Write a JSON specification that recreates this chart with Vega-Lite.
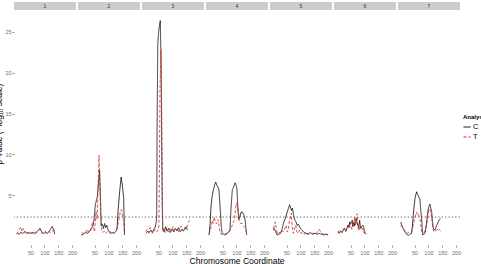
{
"$schema": "https://vega.github.io/schema/vega-lite/v6.json",
"autosize": {"type": "pad"},
"padding": {"left": -6, "top": 2, "right": 0, "bottom": 0},
"bounds": "flush",
"config": {"view": {"stroke": null}, "font": "Liberation Sans",
  "axis": {"grid": false, "domain": false, "tickColor": "#8a8a8a", "tickSize": 2, "labelColor": "#6e6e6e", "labelFontSize": 5.5, "labelPadding": 1},
  "axisX": {"labelOverlap": false, "labelPadding": 3, "labelFlush": false, "labelSeparation": 0}},
"datasets": {"d": [
{"chr":1,"run":"C","pos":0,"p":0.3},{"chr":1,"run":"C","pos":8,"p":0.2},{"chr":1,"run":"C","pos":15,"p":0.4},{"chr":1,"run":"C","pos":22,"p":0.3},{"chr":1,"run":"C","pos":28,"p":0.5},{"chr":1,"run":"C","pos":35,"p":0.3},{"chr":1,"run":"C","pos":42,"p":0.4},{"chr":1,"run":"C","pos":50,"p":0.3},{"chr":1,"run":"C","pos":58,"p":0.4},{"chr":1,"run":"C","pos":65,"p":0.3},{"chr":1,"run":"C","pos":72,"p":0.5},{"chr":1,"run":"C","pos":78,"p":0.7},{"chr":1,"run":"C","pos":84,"p":0.9},{"chr":1,"run":"C","pos":90,"p":0.5},{"chr":1,"run":"C","pos":97,"p":0.3},{"chr":1,"run":"C","pos":104,"p":0.4},{"chr":1,"run":"C","pos":110,"p":0.3},{"chr":1,"run":"C","pos":116,"p":0.5},{"chr":1,"run":"C","pos":122,"p":0.8},{"chr":1,"run":"C","pos":128,"p":1.15},{"chr":1,"run":"C","pos":133,"p":0.8},{"chr":1,"run":"C","pos":137,"p":0.2},
{"chr":1,"run":"T","pos":0,"p":0.2},{"chr":1,"run":"T","pos":5,"p":0.5},{"chr":1,"run":"T","pos":10,"p":0.8},{"chr":1,"run":"T","pos":15,"p":1.1},{"chr":1,"run":"T","pos":19,"p":0.5},{"chr":1,"run":"T","pos":24,"p":0.9},{"chr":1,"run":"T","pos":29,"p":0.4},{"chr":1,"run":"T","pos":35,"p":0.6},{"chr":1,"run":"T","pos":41,"p":0.3},{"chr":1,"run":"T","pos":48,"p":0.5},{"chr":1,"run":"T","pos":55,"p":0.3},{"chr":1,"run":"T","pos":62,"p":0.4},{"chr":1,"run":"T","pos":70,"p":0.3},{"chr":1,"run":"T","pos":77,"p":0.6},{"chr":1,"run":"T","pos":83,"p":0.8},{"chr":1,"run":"T","pos":89,"p":0.3},{"chr":1,"run":"T","pos":96,"p":0.4},{"chr":1,"run":"T","pos":103,"p":0.6},{"chr":1,"run":"T","pos":110,"p":0.3},{"chr":1,"run":"T","pos":117,"p":0.5},{"chr":1,"run":"T","pos":124,"p":0.4},{"chr":1,"run":"T","pos":131,"p":0.7},{"chr":1,"run":"T","pos":137,"p":0.3},
{"chr":2,"run":"C","pos":2,"p":0.1},{"chr":2,"run":"C","pos":10,"p":0.2},{"chr":2,"run":"C","pos":18,"p":0.4},{"chr":2,"run":"C","pos":25,"p":0.3},{"chr":2,"run":"C","pos":32,"p":0.6},{"chr":2,"run":"C","pos":38,"p":0.9},{"chr":2,"run":"C","pos":44,"p":1.2},{"chr":2,"run":"C","pos":48,"p":2.0},{"chr":2,"run":"C","pos":52,"p":3.6},{"chr":2,"run":"C","pos":56,"p":4.3},{"chr":2,"run":"C","pos":60,"p":4.8},{"chr":2,"run":"C","pos":64,"p":6.5},{"chr":2,"run":"C","pos":68,"p":8.0},{"chr":2,"run":"C","pos":71,"p":5.0},{"chr":2,"run":"C","pos":74,"p":1.2},{"chr":2,"run":"C","pos":78,"p":1.4},{"chr":2,"run":"C","pos":82,"p":0.9},{"chr":2,"run":"C","pos":86,"p":1.5},{"chr":2,"run":"C","pos":90,"p":1.0},{"chr":2,"run":"C","pos":94,"p":1.3},{"chr":2,"run":"C","pos":98,"p":0.8},{"chr":2,"run":"C","pos":103,"p":0.5},{"chr":2,"run":"C","pos":108,"p":0.3},{"chr":2,"run":"C","pos":114,"p":0.4},{"chr":2,"run":"C","pos":120,"p":0.3},{"chr":2,"run":"C","pos":126,"p":0.5},{"chr":2,"run":"C","pos":131,"p":0.8},{"chr":2,"run":"C","pos":135,"p":3.2},{"chr":2,"run":"C","pos":141,"p":5.6},{"chr":2,"run":"C","pos":146,"p":7.2},{"chr":2,"run":"C","pos":151,"p":6.0},{"chr":2,"run":"C","pos":155,"p":4.6},{"chr":2,"run":"C","pos":158,"p":0.1},
{"chr":2,"run":"T","pos":2,"p":0.2},{"chr":2,"run":"T","pos":8,"p":0.4},{"chr":2,"run":"T","pos":14,"p":0.3},{"chr":2,"run":"T","pos":20,"p":0.6},{"chr":2,"run":"T","pos":24,"p":0.8},{"chr":2,"run":"T","pos":28,"p":0.4},{"chr":2,"run":"T","pos":33,"p":0.5},{"chr":2,"run":"T","pos":37,"p":0.7},{"chr":2,"run":"T","pos":43,"p":1.7},{"chr":2,"run":"T","pos":47,"p":0.9},{"chr":2,"run":"T","pos":50,"p":0.5},{"chr":2,"run":"T","pos":55,"p":3.0},{"chr":2,"run":"T","pos":59,"p":2.0},{"chr":2,"run":"T","pos":62,"p":5.5},{"chr":2,"run":"T","pos":66,"p":9.9},{"chr":2,"run":"T","pos":69,"p":6.0},{"chr":2,"run":"T","pos":72,"p":2.0},{"chr":2,"run":"T","pos":76,"p":0.7},{"chr":2,"run":"T","pos":80,"p":0.4},{"chr":2,"run":"T","pos":85,"p":0.6},{"chr":2,"run":"T","pos":90,"p":0.3},{"chr":2,"run":"T","pos":96,"p":0.5},{"chr":2,"run":"T","pos":102,"p":0.3},{"chr":2,"run":"T","pos":108,"p":0.5},{"chr":2,"run":"T","pos":115,"p":0.3},{"chr":2,"run":"T","pos":122,"p":0.4},{"chr":2,"run":"T","pos":128,"p":0.6},{"chr":2,"run":"T","pos":133,"p":1.2},{"chr":2,"run":"T","pos":138,"p":2.0},{"chr":2,"run":"T","pos":143,"p":3.0},{"chr":2,"run":"T","pos":147,"p":3.2},{"chr":2,"run":"T","pos":151,"p":2.5},{"chr":2,"run":"T","pos":155,"p":2.0},{"chr":2,"run":"T","pos":158,"p":0.2},
{"chr":3,"run":"C","pos":4,"p":0.3},{"chr":3,"run":"C","pos":10,"p":0.5},{"chr":3,"run":"C","pos":16,"p":0.4},{"chr":3,"run":"C","pos":22,"p":0.7},{"chr":3,"run":"C","pos":28,"p":0.4},{"chr":3,"run":"C","pos":33,"p":0.8},{"chr":3,"run":"C","pos":38,"p":1.1},{"chr":3,"run":"C","pos":41,"p":1.6},{"chr":3,"run":"C","pos":43,"p":2.5},{"chr":3,"run":"C","pos":44.5,"p":13},{"chr":3,"run":"C","pos":47,"p":23.5},{"chr":3,"run":"C","pos":51,"p":25.3},{"chr":3,"run":"C","pos":56,"p":26.4},{"chr":3,"run":"C","pos":59,"p":21},{"chr":3,"run":"C","pos":61,"p":12},{"chr":3,"run":"C","pos":63,"p":4},{"chr":3,"run":"C","pos":65,"p":0.8},{"chr":3,"run":"C","pos":70,"p":0.5},{"chr":3,"run":"C","pos":75,"p":1.1},{"chr":3,"run":"C","pos":80,"p":0.6},{"chr":3,"run":"C","pos":86,"p":0.9},{"chr":3,"run":"C","pos":92,"p":0.4},{"chr":3,"run":"C","pos":98,"p":0.8},{"chr":3,"run":"C","pos":104,"p":0.5},{"chr":3,"run":"C","pos":110,"p":0.9},{"chr":3,"run":"C","pos":116,"p":0.6},{"chr":3,"run":"C","pos":122,"p":1.0},{"chr":3,"run":"C","pos":128,"p":0.5},{"chr":3,"run":"C","pos":134,"p":0.8},{"chr":3,"run":"C","pos":140,"p":0.6},{"chr":3,"run":"C","pos":145,"p":0.9},{"chr":3,"run":"C","pos":149,"p":1.1},{"chr":3,"run":"C","pos":154,"p":0.7},
{"chr":3,"run":"T","pos":4,"p":0.5},{"chr":3,"run":"T","pos":9,"p":0.8},{"chr":3,"run":"T","pos":14,"p":0.4},{"chr":3,"run":"T","pos":19,"p":1.0},{"chr":3,"run":"T","pos":24,"p":0.5},{"chr":3,"run":"T","pos":29,"p":0.3},{"chr":3,"run":"T","pos":34,"p":0.6},{"chr":3,"run":"T","pos":39,"p":0.8},{"chr":3,"run":"T","pos":44,"p":0.5},{"chr":3,"run":"T","pos":48,"p":0.7},{"chr":3,"run":"T","pos":51,"p":1.2},{"chr":3,"run":"T","pos":53,"p":8},{"chr":3,"run":"T","pos":55,"p":18},{"chr":3,"run":"T","pos":58.5,"p":22.8},{"chr":3,"run":"T","pos":61,"p":16},{"chr":3,"run":"T","pos":63,"p":7},{"chr":3,"run":"T","pos":65,"p":0.5},{"chr":3,"run":"T","pos":70,"p":0.9},{"chr":3,"run":"T","pos":74,"p":0.4},{"chr":3,"run":"T","pos":79,"p":1.0},{"chr":3,"run":"T","pos":84,"p":0.5},{"chr":3,"run":"T","pos":90,"p":0.9},{"chr":3,"run":"T","pos":96,"p":0.6},{"chr":3,"run":"T","pos":102,"p":1.1},{"chr":3,"run":"T","pos":108,"p":0.5},{"chr":3,"run":"T","pos":114,"p":0.8},{"chr":3,"run":"T","pos":120,"p":0.4},{"chr":3,"run":"T","pos":126,"p":0.9},{"chr":3,"run":"T","pos":132,"p":1.2},{"chr":3,"run":"T","pos":138,"p":0.6},{"chr":3,"run":"T","pos":144,"p":1.0},{"chr":3,"run":"T","pos":150,"p":0.8},{"chr":3,"run":"T","pos":155,"p":1.3},{"chr":3,"run":"T","pos":161,"p":1.9},
{"chr":4,"run":"C","pos":1,"p":0.1},{"chr":4,"run":"C","pos":5,"p":1.5},{"chr":4,"run":"C","pos":8,"p":3.6},{"chr":4,"run":"C","pos":12,"p":4.8},{"chr":4,"run":"C","pos":16.5,"p":5.6},{"chr":4,"run":"C","pos":21,"p":6.2},{"chr":4,"run":"C","pos":25,"p":6.6},{"chr":4,"run":"C","pos":29,"p":6.2},{"chr":4,"run":"C","pos":33,"p":6.0},{"chr":4,"run":"C","pos":37,"p":5.6},{"chr":4,"run":"C","pos":40,"p":4.0},{"chr":4,"run":"C","pos":42,"p":3.0},{"chr":4,"run":"C","pos":45,"p":1.2},{"chr":4,"run":"C","pos":48,"p":0.4},{"chr":4,"run":"C","pos":53,"p":0.2},{"chr":4,"run":"C","pos":58,"p":0.1},{"chr":4,"run":"C","pos":63,"p":0.2},{"chr":4,"run":"C","pos":68,"p":0.3},{"chr":4,"run":"C","pos":72,"p":0.5},{"chr":4,"run":"C","pos":76.6,"p":0.6},{"chr":4,"run":"C","pos":80,"p":3.2},{"chr":4,"run":"C","pos":85,"p":5.6},{"chr":4,"run":"C","pos":90,"p":6.0},{"chr":4,"run":"C","pos":95,"p":6.5},{"chr":4,"run":"C","pos":99,"p":6.2},{"chr":4,"run":"C","pos":102,"p":5.6},{"chr":4,"run":"C","pos":105,"p":3.5},{"chr":4,"run":"C","pos":108,"p":2.0},{"chr":4,"run":"C","pos":112,"p":2.3},{"chr":4,"run":"C","pos":117,"p":2.9},{"chr":4,"run":"C","pos":122,"p":2.9},{"chr":4,"run":"C","pos":127,"p":2.5},{"chr":4,"run":"C","pos":131,"p":2.0},{"chr":4,"run":"C","pos":134,"p":1.0},{"chr":4,"run":"C","pos":137,"p":0.1},
{"chr":4,"run":"T","pos":1,"p":0.2},{"chr":4,"run":"T","pos":5,"p":0.6},{"chr":4,"run":"T","pos":9,"p":1.2},{"chr":4,"run":"T","pos":12.8,"p":1.9},{"chr":4,"run":"T","pos":16,"p":1.5},{"chr":4,"run":"T","pos":20,"p":2.3},{"chr":4,"run":"T","pos":24,"p":1.6},{"chr":4,"run":"T","pos":28.6,"p":1.5},{"chr":4,"run":"T","pos":32,"p":2.0},{"chr":4,"run":"T","pos":35,"p":1.9},{"chr":4,"run":"T","pos":38,"p":1.0},{"chr":4,"run":"T","pos":41,"p":0.3},{"chr":4,"run":"T","pos":46,"p":0.2},{"chr":4,"run":"T","pos":52,"p":0.1},{"chr":4,"run":"T","pos":58,"p":0.2},{"chr":4,"run":"T","pos":64,"p":0.3},{"chr":4,"run":"T","pos":70,"p":0.4},{"chr":4,"run":"T","pos":75,"p":0.6},{"chr":4,"run":"T","pos":80,"p":0.9},{"chr":4,"run":"T","pos":83,"p":1.1},{"chr":4,"run":"T","pos":88,"p":1.6},{"chr":4,"run":"T","pos":92,"p":1.9},{"chr":4,"run":"T","pos":96,"p":3.0},{"chr":4,"run":"T","pos":100,"p":4.0},{"chr":4,"run":"T","pos":104,"p":3.6},{"chr":4,"run":"T","pos":107,"p":3.0},{"chr":4,"run":"T","pos":110,"p":1.9},{"chr":4,"run":"T","pos":115,"p":1.5},{"chr":4,"run":"T","pos":121,"p":1.5},{"chr":4,"run":"T","pos":126,"p":1.2},{"chr":4,"run":"T","pos":131,"p":1.0},{"chr":4,"run":"T","pos":134,"p":0.8},{"chr":4,"run":"T","pos":137,"p":0.1},
{"chr":5,"run":"C","pos":2,"p":0.7},{"chr":5,"run":"C","pos":5,"p":0.9},{"chr":5,"run":"C","pos":10,"p":0.5},{"chr":5,"run":"C","pos":16,"p":0.1},{"chr":5,"run":"C","pos":22,"p":0.2},{"chr":5,"run":"C","pos":28,"p":0.3},{"chr":5,"run":"C","pos":34,"p":0.9},{"chr":5,"run":"C","pos":40,"p":1.7},{"chr":5,"run":"C","pos":46,"p":2.2},{"chr":5,"run":"C","pos":52,"p":2.9},{"chr":5,"run":"C","pos":57,"p":3.4},{"chr":5,"run":"C","pos":61,"p":3.8},{"chr":5,"run":"C","pos":65,"p":3.4},{"chr":5,"run":"C","pos":68,"p":3.1},{"chr":5,"run":"C","pos":71,"p":3.4},{"chr":5,"run":"C","pos":74,"p":2.8},{"chr":5,"run":"C","pos":77,"p":2.3},{"chr":5,"run":"C","pos":80,"p":1.9},{"chr":5,"run":"C","pos":84,"p":1.7},{"chr":5,"run":"C","pos":88,"p":1.3},{"chr":5,"run":"C","pos":93,"p":1.4},{"chr":5,"run":"C","pos":98,"p":1.0},{"chr":5,"run":"C","pos":103,"p":0.8},{"chr":5,"run":"C","pos":108,"p":0.6},{"chr":5,"run":"C","pos":114,"p":0.4},{"chr":5,"run":"C","pos":120,"p":0.3},{"chr":5,"run":"C","pos":128,"p":0.2},{"chr":5,"run":"C","pos":136,"p":0.4},{"chr":5,"run":"C","pos":144,"p":0.2},{"chr":5,"run":"C","pos":152,"p":0.3},{"chr":5,"run":"C","pos":160,"p":0.2},{"chr":5,"run":"C","pos":168,"p":0.3},{"chr":5,"run":"C","pos":176,"p":0.2},{"chr":5,"run":"C","pos":184,"p":0.1},{"chr":5,"run":"C","pos":192,"p":0.2},{"chr":5,"run":"C","pos":200,"p":0.1},
{"chr":5,"run":"T","pos":2,"p":0.9},{"chr":5,"run":"T","pos":5,"p":1.2},{"chr":5,"run":"T","pos":9,"p":1.7},{"chr":5,"run":"T","pos":13,"p":0.9},{"chr":5,"run":"T","pos":17,"p":0.2},{"chr":5,"run":"T","pos":22,"p":0.4},{"chr":5,"run":"T","pos":28,"p":0.3},{"chr":5,"run":"T","pos":34,"p":0.6},{"chr":5,"run":"T","pos":40,"p":0.5},{"chr":5,"run":"T","pos":45,"p":1.0},{"chr":5,"run":"T","pos":48,"p":1.3},{"chr":5,"run":"T","pos":52,"p":0.5},{"chr":5,"run":"T","pos":56,"p":0.6},{"chr":5,"run":"T","pos":60,"p":1.8},{"chr":5,"run":"T","pos":64,"p":2.4},{"chr":5,"run":"T","pos":67,"p":2.8},{"chr":5,"run":"T","pos":70,"p":1.2},{"chr":5,"run":"T","pos":74,"p":0.3},{"chr":5,"run":"T","pos":79,"p":0.9},{"chr":5,"run":"T","pos":83,"p":1.3},{"chr":5,"run":"T","pos":87,"p":0.5},{"chr":5,"run":"T","pos":92,"p":0.3},{"chr":5,"run":"T","pos":97,"p":0.7},{"chr":5,"run":"T","pos":102,"p":0.3},{"chr":5,"run":"T","pos":108,"p":0.5},{"chr":5,"run":"T","pos":114,"p":0.2},{"chr":5,"run":"T","pos":120,"p":0.4},{"chr":5,"run":"T","pos":128,"p":0.2},{"chr":5,"run":"T","pos":135,"p":0.3},{"chr":5,"run":"T","pos":142,"p":0.2},{"chr":5,"run":"T","pos":150,"p":0.4},{"chr":5,"run":"T","pos":156,"p":0.3},{"chr":5,"run":"T","pos":162,"p":0.5},{"chr":5,"run":"T","pos":168,"p":0.8},{"chr":5,"run":"T","pos":174,"p":0.4},{"chr":5,"run":"T","pos":182,"p":0.2},{"chr":5,"run":"T","pos":190,"p":0.3},{"chr":5,"run":"T","pos":200,"p":0.1},
{"chr":6,"run":"C","pos":4,"p":0.5},{"chr":6,"run":"C","pos":9,"p":0.3},{"chr":6,"run":"C","pos":14,"p":0.6},{"chr":6,"run":"C","pos":19,"p":0.4},{"chr":6,"run":"C","pos":24,"p":0.7},{"chr":6,"run":"C","pos":28.6,"p":0.9},{"chr":6,"run":"C","pos":33,"p":0.6},{"chr":6,"run":"C","pos":37,"p":1.0},{"chr":6,"run":"C","pos":40.5,"p":1.3},{"chr":6,"run":"C","pos":44,"p":1.0},{"chr":6,"run":"C","pos":46.6,"p":1.7},{"chr":6,"run":"C","pos":50,"p":1.4},{"chr":6,"run":"C","pos":53,"p":1.7},{"chr":6,"run":"C","pos":56,"p":1.9},{"chr":6,"run":"C","pos":58,"p":1.1},{"chr":6,"run":"C","pos":61,"p":1.6},{"chr":6,"run":"C","pos":64,"p":1.2},{"chr":6,"run":"C","pos":67,"p":1.8},{"chr":6,"run":"C","pos":70.5,"p":2.1},{"chr":6,"run":"C","pos":73,"p":1.6},{"chr":6,"run":"C","pos":76,"p":1.3},{"chr":6,"run":"C","pos":79,"p":1.0},{"chr":6,"run":"C","pos":82.8,"p":1.9},{"chr":6,"run":"C","pos":86,"p":0.9},{"chr":6,"run":"C","pos":90,"p":1.1},{"chr":6,"run":"C","pos":94,"p":1.3},{"chr":6,"run":"C","pos":97,"p":1.2},{"chr":6,"run":"C","pos":100,"p":0.4},{"chr":6,"run":"C","pos":104,"p":0.3},{"chr":6,"run":"C","pos":107,"p":0.2},
{"chr":6,"run":"T","pos":4,"p":0.3},{"chr":6,"run":"T","pos":8,"p":0.6},{"chr":6,"run":"T","pos":12,"p":0.7},{"chr":6,"run":"T","pos":17,"p":0.4},{"chr":6,"run":"T","pos":22,"p":0.8},{"chr":6,"run":"T","pos":27,"p":0.9},{"chr":6,"run":"T","pos":32,"p":0.5},{"chr":6,"run":"T","pos":37,"p":0.8},{"chr":6,"run":"T","pos":41,"p":1.1},{"chr":6,"run":"T","pos":44,"p":1.5},{"chr":6,"run":"T","pos":48,"p":1.0},{"chr":6,"run":"T","pos":52,"p":1.1},{"chr":6,"run":"T","pos":55,"p":0.8},{"chr":6,"run":"T","pos":58.6,"p":1.7},{"chr":6,"run":"T","pos":62,"p":1.4},{"chr":6,"run":"T","pos":64.7,"p":2.3},{"chr":6,"run":"T","pos":68,"p":1.2},{"chr":6,"run":"T","pos":71,"p":2.5},{"chr":6,"run":"T","pos":74,"p":2.7},{"chr":6,"run":"T","pos":77,"p":0.9},{"chr":6,"run":"T","pos":80,"p":0.6},{"chr":6,"run":"T","pos":83,"p":1.0},{"chr":6,"run":"T","pos":86,"p":1.3},{"chr":6,"run":"T","pos":90,"p":0.7},{"chr":6,"run":"T","pos":94,"p":0.9},{"chr":6,"run":"T","pos":97,"p":0.5},{"chr":6,"run":"T","pos":100,"p":0.3},{"chr":6,"run":"T","pos":104,"p":0.4},{"chr":6,"run":"T","pos":107,"p":0.2},
{"chr":7,"run":"C","pos":0,"p":1.7},{"chr":7,"run":"C","pos":5.5,"p":1.1},{"chr":7,"run":"C","pos":10,"p":0.8},{"chr":7,"run":"C","pos":15,"p":0.5},{"chr":7,"run":"C","pos":21,"p":0.2},{"chr":7,"run":"C","pos":27,"p":0.05},{"chr":7,"run":"C","pos":33,"p":0.2},{"chr":7,"run":"C","pos":39,"p":0.3},{"chr":7,"run":"C","pos":42,"p":1.2},{"chr":7,"run":"C","pos":45,"p":2.5},{"chr":7,"run":"C","pos":48,"p":3.5},{"chr":7,"run":"C","pos":51,"p":4.5},{"chr":7,"run":"C","pos":54,"p":5.0},{"chr":7,"run":"C","pos":57.5,"p":5.4},{"chr":7,"run":"C","pos":60,"p":5.1},{"chr":7,"run":"C","pos":63,"p":4.95},{"chr":7,"run":"C","pos":66,"p":4.7},{"chr":7,"run":"C","pos":69,"p":4.5},{"chr":7,"run":"C","pos":72,"p":3.2},{"chr":7,"run":"C","pos":75.5,"p":2.1},{"chr":7,"run":"C","pos":79,"p":0.1},{"chr":7,"run":"C","pos":83,"p":0.2},{"chr":7,"run":"C","pos":87.5,"p":0.3},{"chr":7,"run":"C","pos":91,"p":1.0},{"chr":7,"run":"C","pos":93.6,"p":1.7},{"chr":7,"run":"C","pos":96,"p":2.5},{"chr":7,"run":"C","pos":99.5,"p":3.3},{"chr":7,"run":"C","pos":102,"p":3.6},{"chr":7,"run":"C","pos":105.5,"p":3.9},{"chr":7,"run":"C","pos":108,"p":3.5},{"chr":7,"run":"C","pos":111.7,"p":2.9},{"chr":7,"run":"C","pos":114,"p":2.0},{"chr":7,"run":"C","pos":117.5,"p":0.9},{"chr":7,"run":"C","pos":123.5,"p":0.7},{"chr":7,"run":"C","pos":129.7,"p":1.3},{"chr":7,"run":"C","pos":134,"p":1.6},{"chr":7,"run":"C","pos":138,"p":1.9},{"chr":7,"run":"C","pos":144,"p":2.1},
{"chr":7,"run":"T","pos":0,"p":1.3},{"chr":7,"run":"T","pos":4,"p":1.1},{"chr":7,"run":"T","pos":9,"p":0.9},{"chr":7,"run":"T","pos":15,"p":0.6},{"chr":7,"run":"T","pos":21,"p":0.3},{"chr":7,"run":"T","pos":27,"p":0.4},{"chr":7,"run":"T","pos":33,"p":0.5},{"chr":7,"run":"T","pos":39,"p":0.5},{"chr":7,"run":"T","pos":45,"p":1.3},{"chr":7,"run":"T","pos":50,"p":2.0},{"chr":7,"run":"T","pos":54,"p":2.6},{"chr":7,"run":"T","pos":57.5,"p":2.9},{"chr":7,"run":"T","pos":60,"p":2.6},{"chr":7,"run":"T","pos":63.4,"p":2.7},{"chr":7,"run":"T","pos":66,"p":2.4},{"chr":7,"run":"T","pos":69.4,"p":2.1},{"chr":7,"run":"T","pos":72,"p":1.5},{"chr":7,"run":"T","pos":75,"p":0.5},{"chr":7,"run":"T","pos":80,"p":0.4},{"chr":7,"run":"T","pos":87,"p":0.5},{"chr":7,"run":"T","pos":93,"p":1.3},{"chr":7,"run":"T","pos":96,"p":2.0},{"chr":7,"run":"T","pos":99.5,"p":2.9},{"chr":7,"run":"T","pos":102,"p":3.1},{"chr":7,"run":"T","pos":105.5,"p":3.3},{"chr":7,"run":"T","pos":108,"p":2.8},{"chr":7,"run":"T","pos":111.7,"p":2.3},{"chr":7,"run":"T","pos":115,"p":1.2},{"chr":7,"run":"T","pos":119,"p":0.5},{"chr":7,"run":"T","pos":124,"p":0.6},{"chr":7,"run":"T","pos":130,"p":0.7},{"chr":7,"run":"T","pos":135,"p":0.8},{"chr":7,"run":"T","pos":138,"p":0.9},{"chr":7,"run":"T","pos":141,"p":0.7},{"chr":7,"run":"T","pos":144,"p":0.6}
]},
"data": {"name": "d"},
"facet": {"column": {"field": "chr", "type": "ordinal", "header": {"labels": false, "title": "Chromosome Coordinate", "titleOrient": "bottom", "titleFontSize": 8.5, "titleFontWeight": "normal", "titleColor": "#000000", "titlePadding": -5, "titleBaseline": "middle", "titleFont": "Liberation Sans"}}},
"spacing": 2,
"spec": {
  "width": 62, "height": 243,
  "layer": [
    {"transform": [{"aggregate": [{"op": "count", "as": "n"}], "groupby": ["chr"]}],
     "mark": {"type": "rect", "color": "#cccccc"},
     "encoding": {"x": {"datum": -10, "type": "quantitative"}, "x2": {"datum": 214}, "y": {"datum": 28.68, "type": "quantitative"}, "y2": {"datum": 27.7}}},
    {"transform": [{"aggregate": [{"op": "count", "as": "n"}], "groupby": ["chr"]}],
     "mark": {"type": "text", "fontSize": 5, "color": "#333333", "baseline": "middle"},
     "encoding": {"x": {"datum": 102, "type": "quantitative"}, "y": {"datum": 28.2, "type": "quantitative"}, "text": {"field": "chr"}}},
    {"transform": [{"aggregate": [{"op": "count", "as": "n"}], "groupby": ["chr"]}],
     "mark": {"type": "rule", "color": "#6a6a6a", "strokeDash": [1.4, 2], "strokeWidth": 1},
     "encoding": {"y": {"datum": 2.3, "type": "quantitative"}}},
    {"mark": {"type": "line", "strokeWidth": 0.8},
     "encoding": {
       "x": {"field": "pos", "type": "quantitative", "scale": {"domain": [-10, 214], "nice": false, "zero": false},
             "axis": {"title": null, "values": [50, 100, 150, 200], "tickCount": 10, "labelFontSize": 5.5, "labelOverlap": false, "labelPadding": 3, "labelBound": false, "labelFlush": false}},
       "y": {"field": "p", "type": "quantitative", "scale": {"domain": [-1.13, 28.68], "nice": false, "zero": false},
             "axis": {"title": "p-value (−log₁₀ scale)", "values": [5, 10, 15, 20, 25], "tickCount": 10, "titleFontSize": 8.5, "titleFontWeight": "normal", "titleColor": "#000000", "titlePadding": 1}},
       "color": {"field": "run", "type": "nominal", "scale": {"domain": ["C", "T"], "range": ["#000000", "#cd2626"]},
                 "legend": {"title": "Analysis", "orient": "none", "legendX": 449, "legendY": 112, "symbolType": "stroke", "symbolSize": 49, "symbolStrokeWidth": 1, "titleFontSize": 6, "titleFontWeight": "bold", "titleColor": "#000000", "labelFontSize": 7.5, "labelColor": "#000000", "rowPadding": 2, "labelOffset": 2, "titlePadding": 3}},
       "strokeDash": {"field": "run", "type": "nominal", "scale": {"domain": ["C", "T"], "range": [[1, 0], [3, 2]]},
                 "legend": {"title": "Analysis"}}
     }}
  ]
}
}
